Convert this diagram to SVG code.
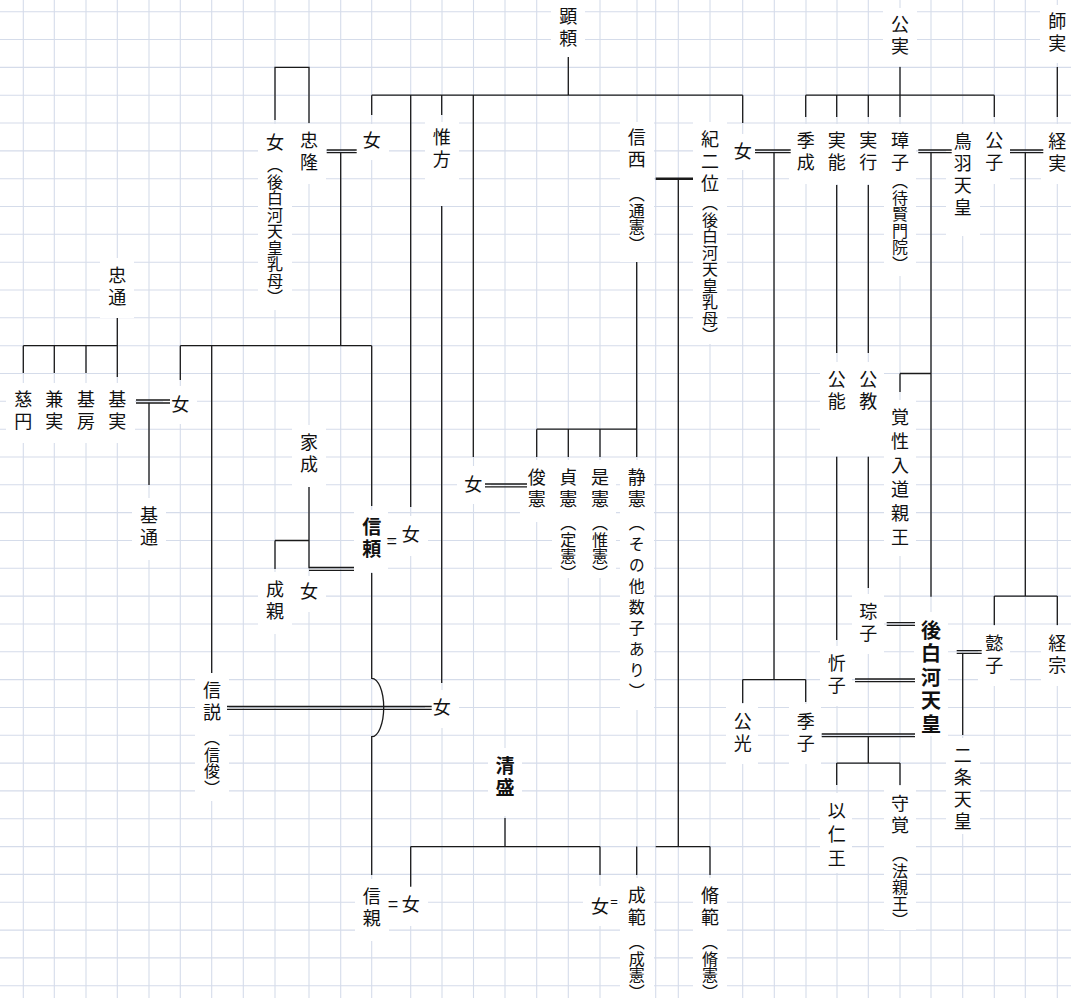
<svg xmlns="http://www.w3.org/2000/svg" width="1071" height="998" viewBox="0 0 1071 998">
<style>
.grid{stroke:#d5dcea;stroke-width:1.1;fill:none}
.bg{fill:#fff}
.c{stroke:#1a1a1a;stroke-width:1.3;fill:none}
.t{stroke:#1a1a1a;stroke-width:2.6;fill:none}
text{font-family:"Noto Sans CJK JP","Noto Sans CJK SC",sans-serif;fill:#111}
.n{font-size:18px;writing-mode:vertical-rl;letter-spacing:4px}
.s{font-size:16px;writing-mode:vertical-rl;letter-spacing:0.5px}
.b{font-size:19px;font-weight:bold;writing-mode:vertical-rl;letter-spacing:3px}
.w{font-family:"Liberation Sans",sans-serif;font-size:18px;text-anchor:middle}
</style>
<rect width="1071" height="998" fill="#fff"/>
<g id="grid" class="grid">
<path d="M23.3,0V998M54.3,0V998M86,0V998M117.3,0V998M149,0V998M180.3,0V998M211.7,0V998M243.3,0V998M275,0V998M309,0V998M340.7,0V998M371.7,0V998M410.7,0V998M442,0V998M473.5,0V998M505,0V998M536.7,0V998M568.3,0V998M600,0V998M637,0V998M655.7,0V998M678.3,0V998M710,0V998M742.7,0V998M774.3,0V998M806,0V998M837,0V998M868.3,0V998M900,0V998M931,0V998M962.7,0V998M994.3,0V998M1025.3,0V998M1057.3,0V998"/>
<path d="M0,11.7H1071M0,39.5H1071M0,67.4H1071M0,95.2H1071M0,123H1071M0,150.9H1071M0,178.7H1071M0,206.5H1071M0,234.3H1071M0,262.2H1071M0,290H1071M0,317.8H1071M0,345.7H1071M0,373.5H1071M0,401.3H1071M0,429.2H1071M0,457H1071M0,484.8H1071M0,512.6H1071M0,540.5H1071M0,568.3H1071M0,596.1H1071M0,624H1071M0,651.8H1071M0,679.6H1071M0,707.5H1071M0,735.3H1071M0,763.1H1071M0,790.9H1071M0,818.8H1071M0,846.6H1071M0,874.4H1071M0,902.3H1071M0,930.1H1071M0,957.9H1071M0,985.8H1071"/>
</g>
<g id="backgrounds" class="bg">
<rect x="551" y="0" width="34" height="58"/>
<rect x="883" y="8" width="34" height="58"/>
<rect x="1040" y="5" width="31" height="58"/>
<rect x="258" y="124" width="34" height="186"/>
<rect x="292" y="124" width="34" height="60"/>
<rect x="355" y="124" width="34" height="36"/>
<rect x="425" y="122" width="34" height="84"/>
<rect x="620" y="122" width="34" height="140"/>
<rect x="693" y="122" width="34" height="222"/>
<rect x="726" y="134" width="30" height="36"/>
<rect x="789" y="124" width="32" height="60"/>
<rect x="821" y="124" width="32" height="60"/>
<rect x="852" y="124" width="32" height="60"/>
<rect x="884" y="124" width="32" height="152"/>
<rect x="946" y="124" width="34" height="112"/>
<rect x="978" y="124" width="32" height="60"/>
<rect x="1041" y="124" width="30" height="60"/>
<rect x="100" y="258" width="34" height="60"/>
<rect x="6" y="383" width="34" height="60"/>
<rect x="37" y="383" width="34" height="60"/>
<rect x="69" y="383" width="34" height="60"/>
<rect x="101" y="383" width="34" height="60"/>
<rect x="163" y="386" width="34" height="38"/>
<rect x="132" y="498" width="34" height="62"/>
<rect x="292" y="425" width="34" height="62"/>
<rect x="258" y="572" width="34" height="62"/>
<rect x="292" y="576" width="34" height="36"/>
<rect x="354" y="510" width="34" height="62"/>
<rect x="394" y="516" width="34" height="40"/>
<rect x="457" y="466" width="34" height="38"/>
<rect x="520" y="460" width="32" height="62"/>
<rect x="552" y="460" width="32" height="118"/>
<rect x="584" y="460" width="32" height="118"/>
<rect x="620" y="460" width="34" height="250"/>
<rect x="195" y="673" width="34" height="128"/>
<rect x="425" y="690" width="34" height="38"/>
<rect x="488" y="748" width="34" height="68"/>
<rect x="355" y="879" width="34" height="62"/>
<rect x="394" y="886" width="34" height="40"/>
<rect x="583" y="886" width="36" height="40"/>
<rect x="620" y="878" width="34" height="120"/>
<rect x="693" y="878" width="34" height="120"/>
<rect x="820" y="362" width="32" height="94"/>
<rect x="852" y="362" width="32" height="94"/>
<rect x="884" y="400" width="32" height="156"/>
<rect x="852" y="594" width="32" height="60"/>
<rect x="914" y="612" width="34" height="124"/>
<rect x="820" y="646" width="32" height="60"/>
<rect x="978" y="626" width="32" height="60"/>
<rect x="1041" y="626" width="30" height="60"/>
<rect x="726" y="704" width="32" height="60"/>
<rect x="789" y="704" width="32" height="60"/>
<rect x="820" y="793" width="32" height="80"/>
<rect x="884" y="786" width="32" height="144"/>
<rect x="946" y="738" width="34" height="96"/>
</g>
<g id="connectors">
<path class="c" d="M568.3,57V95.2M371.7,95.2H742.7M371.7,95.2V115M410.7,95.2V507M441.7,95.2V115M473.3,95.2V457M742.7,95.2V123"/>
<path class="c" d="M441.7,206V683"/>
<path class="c" d="M636.7,262V429.2M536.7,429.2H636.7M536.7,429.2V457M568.3,429.2V457M600,429.2V457M636.7,429.2V457"/>
<path class="t" d="M655.7,178.7H693"/>
<path class="c" d="M678.3,178.7V846.6M655.7,846.6H710M710,846.6V875M636.7,846.6V875"/>
<path class="c" d="M485,484H527M485,486.8H527"/>
<path class="c" d="M326.7,150H356.7M326.7,152.7H356.7M340.7,152.7V345.7"/>
<path class="c" d="M275,120V67.4H309V123"/>
<path class="c" d="M180.3,345.7H371.7M180.3,345.7V380M211.7,345.7V673M371.7,345.7V506"/>
<path class="c" d="M117.3,318V345.7M23.3,345.7H117.3M23.3,345.7V373M54.3,345.7V373M86,345.7V373M117.3,345.7V377"/>
<path class="c" d="M136,400H170M136,403H170M149,403V485"/>
<path class="c" d="M309,487V568.3M275,540.5H309M275,540.5V569"/>
<path class="c" d="M309,567.5H354M309,570.3H354"/>
<path class="c" d="M371.7,573V678.3A12,29.2 0 0 1 371.7,736.7V875"/>
<path class="c" d="M227,706.5H431.7M227,709.3H431.7"/>
<path class="c" d="M505,818V846.6M410.7,846.6H600M410.7,846.6V886.7M600,846.6V875"/>
<path class="c" d="M900,67V95.2M805.7,95.2H994.3M805.7,95.2V117M836.7,95.2V117M868.3,95.2V117M900,95.2V117M994.3,95.2V117M1057.3,67V117"/>
<path class="c" d="M755,150H790.7M755,152.7H790.7M774,152.7V679.6M742.7,679.6H805.7M742.7,679.6V703M805.7,679.6V702"/>
<path class="c" d="M836.7,185V353M836.7,456.7V640M868.3,185V353M868.3,456.7V588"/>
<path class="c" d="M918.3,150H951.7M918.3,152.7H951.7M931,152.7V596.7M900,373.5H931M900,373.5V392"/>
<path class="c" d="M1010,150H1043.3M1010,152.7H1043.3M1025.3,152.7V596.1M994.3,596.1H1057.3M994.3,596.1V625M1057.3,596.1V625"/>
<path class="c" d="M886.7,622.7H915M886.7,625.3H915"/>
<path class="c" d="M855,679H915M855,681.7H915"/>
<path class="c" d="M821.7,734H915M821.7,736.7H915M868.3,736.7V763.1M836.7,763.1H900M836.7,763.1V785M900,763.1V785"/>
<path class="c" d="M956.7,650.7H981.7M956.7,653.3H981.7M962.7,653.3V735"/>
<text class="w" x="391.7" y="547">=</text>
<text class="w" x="393" y="910">=</text>
<text class="w" x="614" y="906" style="font-size:13px">=</text>
</g>
<g id="n-akiyori"><text class="n" x="568.3" y="7">顕頼</text></g>
<g id="n-kinzane"><text class="n" x="900" y="15">公実</text></g>
<g id="n-morozane"><text class="n" x="1057.3" y="12">師実</text></g>
<g id="n-onna-menoto"><text class="n" x="275" y="133">女</text><text class="s" x="275" y="157">（後白河天皇乳母）</text></g>
<g id="n-tadataka"><text class="n" x="309" y="131">忠隆</text></g>
<g id="n-onna1"><text class="n" x="371.7" y="131">女</text></g>
<g id="n-korekata"><text class="n" x="441.7" y="128">惟方</text></g>
<g id="n-shinzei"><text class="n" x="636.7" y="128">信西</text><text class="s" x="636.7" y="186">（通憲）</text></g>
<g id="n-kinoni"><text class="n" x="710" y="130">紀二位</text><text class="s" x="710" y="195">（後白河天皇乳母）</text></g>
<g id="n-onna2"><text class="n" x="742.7" y="142">女</text></g>
<g id="n-suenari"><text class="n" x="805.7" y="131">季成</text></g>
<g id="n-saneyoshi"><text class="n" x="836.7" y="131">実能</text></g>
<g id="n-saneyuki"><text class="n" x="868.3" y="131">実行</text></g>
<g id="n-shoshi"><text class="n" x="900" y="131">璋子</text><text class="s" x="900" y="173">（待賢門院）</text></g>
<g id="n-toba"><text class="n" x="962.7" y="132">鳥羽天皇</text></g>
<g id="n-kimiko"><text class="n" x="994.3" y="131">公子</text></g>
<g id="n-tsunezane"><text class="n" x="1057.3" y="132">経実</text></g>
<g id="n-tadamichi"><text class="n" x="117.3" y="266">忠通</text></g>
<g id="n-jien"><text class="n" x="23.3" y="390">慈円</text></g>
<g id="n-kanezane"><text class="n" x="54.3" y="390">兼実</text></g>
<g id="n-motofusa"><text class="n" x="86" y="390">基房</text></g>
<g id="n-motozane"><text class="n" x="117.3" y="390">基実</text></g>
<g id="n-onna3"><text class="n" x="180.3" y="395">女</text></g>
<g id="n-motomichi"><text class="n" x="149" y="506">基通</text></g>
<g id="n-ienari"><text class="n" x="309" y="433">家成</text></g>
<g id="n-narichika"><text class="n" x="275" y="580">成親</text></g>
<g id="n-onna4"><text class="n" x="309" y="582">女</text></g>
<g id="n-nobuyori"><text class="b" x="371.7" y="517">信頼</text></g>
<g id="n-onna5"><text class="n" x="410.7" y="525">女</text></g>
<g id="n-onna6"><text class="n" x="473.3" y="475">女</text></g>
<g id="n-toshinori"><text class="n" x="536.7" y="468">俊憲</text></g>
<g id="n-sadanori"><text class="n" x="568.3" y="468">貞憲</text><text class="s" x="568.3" y="515">（定憲）</text></g>
<g id="n-korenori"><text class="n" x="600" y="468">是憲</text><text class="s" x="600" y="515">（惟憲）</text></g>
<g id="n-seiken"><text class="n" x="636.7" y="468">静憲</text><text class="s" x="636.7" y="515" style="letter-spacing:5px">（その他数子あり）</text></g>
<g id="n-nobutoki"><text class="n" x="212" y="681">信説</text><text class="s" x="212" y="730">（信俊）</text></g>
<g id="n-onna7"><text class="n" x="441.7" y="698">女</text></g>
<g id="n-kiyomori"><text class="b" x="505" y="756">清盛</text></g>
<g id="n-nobuchika"><text class="n" x="371.7" y="887">信親</text></g>
<g id="n-onna8"><text class="n" x="410.7" y="895">女</text></g>
<g id="n-onna9"><text class="n" x="600" y="897">女</text></g>
<g id="n-shigenori"><text class="n" x="636.7" y="886">成範</text><text class="s" x="636.7" y="934">（成憲）</text></g>
<g id="n-naganori"><text class="n" x="710" y="886">脩範</text><text class="s" x="710" y="934">（脩憲）</text></g>
<g id="n-kinyoshi"><text class="n" x="836.7" y="370">公能</text></g>
<g id="n-kinnori"><text class="n" x="868.3" y="370">公教</text></g>
<g id="n-kakusho"><text class="n" x="900" y="408" style="letter-spacing:6px">覚性入道親王</text></g>
<g id="n-soshi"><text class="n" x="868.3" y="602">琮子</text></g>
<g id="n-goshirakawa"><text class="b" x="931" y="620" style="font-size:20px;letter-spacing:3.5px">後白河天皇</text></g>
<g id="n-kinshi"><text class="n" x="836.7" y="654">忻子</text></g>
<g id="n-ishi"><text class="n" x="994.3" y="634">懿子</text></g>
<g id="n-tsunemune"><text class="n" x="1057.3" y="634">経宗</text></g>
<g id="n-kinmitsu"><text class="n" x="742.7" y="712">公光</text></g>
<g id="n-sueko"><text class="n" x="805.7" y="712">季子</text></g>
<g id="n-mochihito"><text class="n" x="836.7" y="801" style="letter-spacing:6px">以仁王</text></g>
<g id="n-shukaku"><text class="n" x="900" y="794">守覚</text><text class="s" x="900" y="846">（法親王）</text></g>
<g id="n-nijo"><text class="n" x="962.7" y="746">二条天皇</text></g>
</svg>
